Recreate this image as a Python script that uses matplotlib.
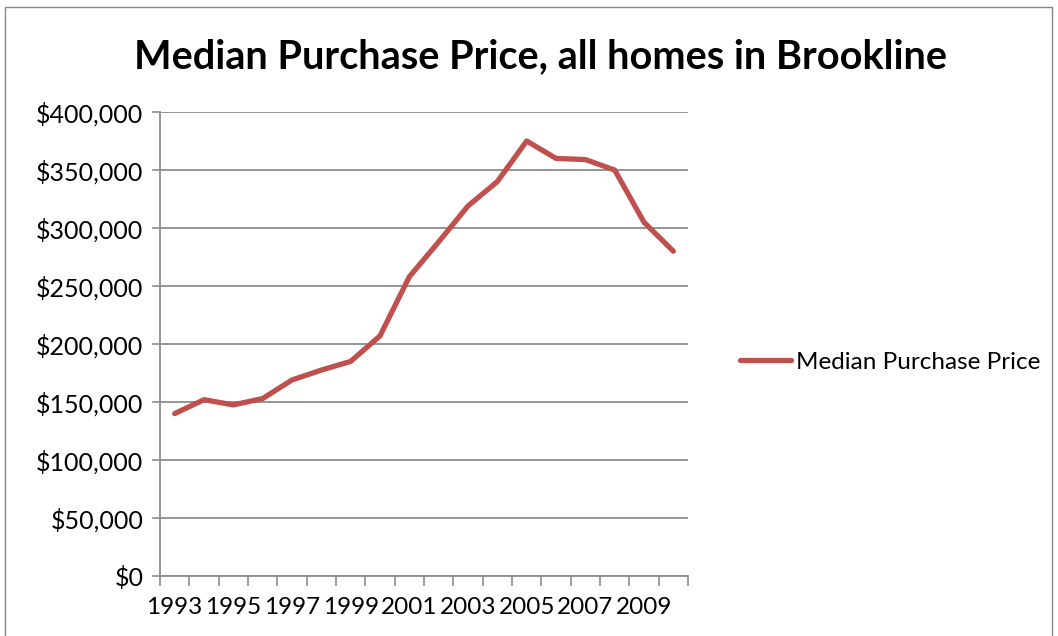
import numpy as np
import matplotlib
matplotlib.use("Agg")
import matplotlib.pyplot as plt
from matplotlib.lines import Line2D
from matplotlib.ticker import FuncFormatter

years = [1993, 1994, 1995, 1996, 1997, 1998, 1999, 2000, 2001,
         2002, 2003, 2004, 2005, 2006, 2007, 2008, 2009, 2010]
median_price = [140000, 152000, 147500, 153000, 169000, 177500, 185000, 207000, 258000,
                288000, 319000, 340000, 375000, 360000, 359000, 350000, 305000, 280000]
y_ticks = [0, 50000, 100000, 150000, 200000, 250000, 300000, 350000, 400000]

plt.rcParams["font.family"] = ["Lato", "DejaVu Sans"]
grid_col = "#8c8c8c"
line_col = "#c0504d"

fig = plt.figure(figsize=(10.58, 6.36), dpi=100)
ax = fig.add_axes([160 / 1058, 1 - 576 / 636, 528 / 1058, 464 / 636])

x = np.arange(len(years))
ax.plot(x, median_price, color=line_col, linewidth=3.8, solid_capstyle="round",
        solid_joinstyle="round", label="Median Purchase Price", zorder=3)

# y axis
ax.set_ylim(0, 400000)
ax.set_yticks(y_ticks)
ax.yaxis.set_major_formatter(FuncFormatter(lambda v, p: "${:,.0f}".format(v)))
ax.grid(axis="y", color=grid_col, linewidth=1.3)
ax.tick_params(axis="y", length=6, width=1.2, color=grid_col, labelsize=18, pad=6)

# x axis: labels every other year, ticks between categories
ax.set_xlim(-0.5, len(years) - 0.5)
ax.set_xticks(x[::2])
ax.set_xticklabels([str(y) for y in years[::2]])
ax.set_xticks(np.arange(len(years) + 1) - 0.5, minor=True)
ax.tick_params(axis="x", which="major", length=0, labelsize=17.5, pad=15)
ax.tick_params(axis="x", which="minor", length=7, width=1.2, color=grid_col)

for side in ["top", "right"]:
    ax.spines[side].set_visible(False)
for side in ["left", "bottom"]:
    ax.spines[side].set_color(grid_col)
    ax.spines[side].set_linewidth(1.3)
ax.set_axisbelow(True)

fig.text(540 / 1058, 1 - 57 / 636, "Median Purchase Price, all homes in Brookline",
         ha="center", va="center", fontsize=28.5, fontweight="bold")

# legend
handle = Line2D([0], [0], color=line_col, linewidth=3.8, solid_capstyle="round")
fig.legend([handle], ["Median Purchase Price"], loc="center left",
           bbox_to_anchor=(718 / 1058, 1 - 362 / 636), frameon=False,
           fontsize=17.5, handlelength=2.1, handletextpad=0.2)

# outer chart border
fig.add_artist(Line2D([5 / 1058, 5 / 1058, 1052 / 1058, 1052 / 1058],
                      [0, 1 - 7 / 636, 1 - 7 / 636, 0],
                      transform=fig.transFigure, color="#888888", linewidth=1))

fig.savefig("out.png", dpi=100)
